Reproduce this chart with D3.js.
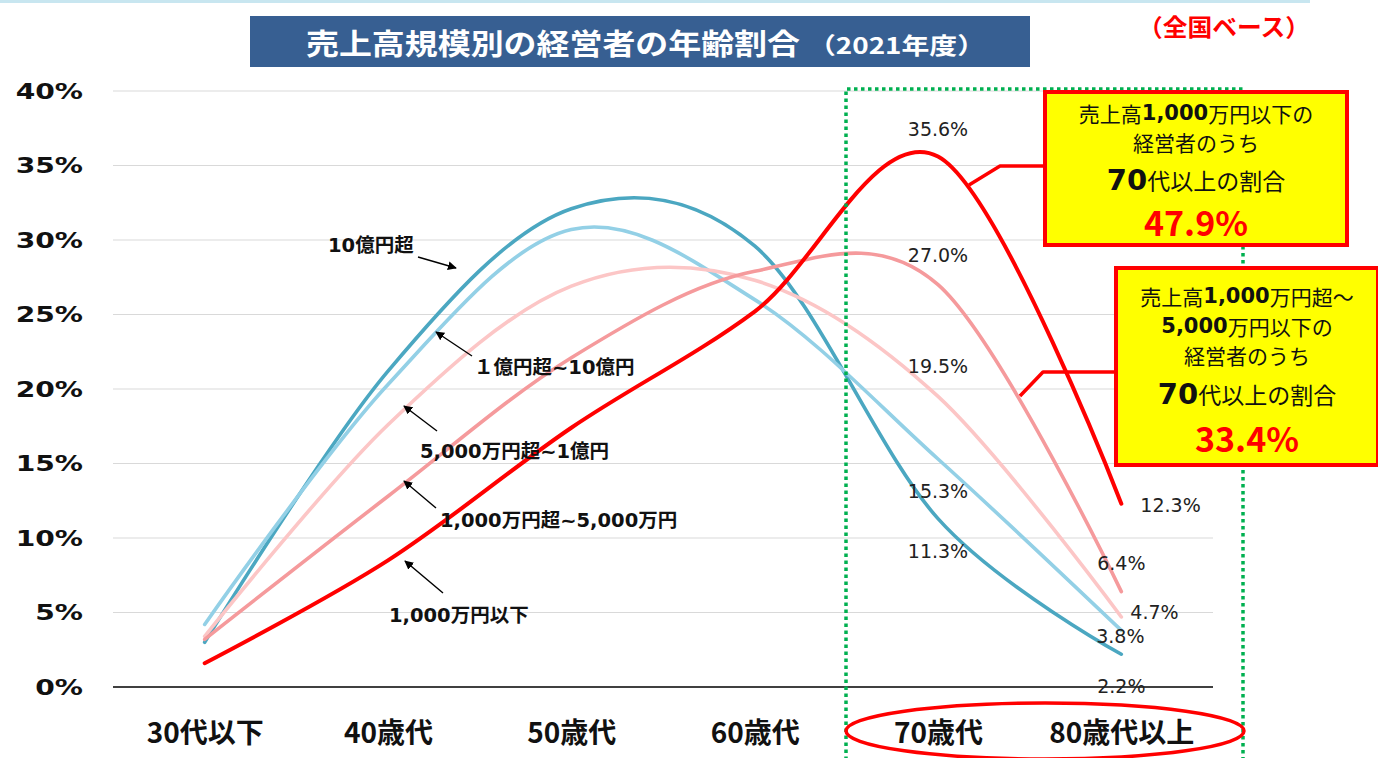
<!DOCTYPE html>
<html lang="ja">
<head>
<meta charset="utf-8">
<script src="https://cdn.jsdelivr.net/npm/d3@7/dist/d3.min.js"></script>
<style>
  html, body { margin: 0; padding: 0; background: #fff; }
  svg { display: block; }
</style>
</head>
<body>
<svg id="chart" width="1378" height="758"></svg>
<script>
// 年齢階層
const categories = ["30代以下", "40歳代", "50歳代", "60歳代", "70歳代", "80歳代以上"];
// 売上高規模別の経営者の年齢割合 (%)
const salesUnder1000man   = [1.6, 8.5, 17.4, 25.2, 35.6, 12.3];
const sales1000to5000man  = [3.2, 12.8, 22.1, 27.9, 27.0, 6.4];
const sales5000manTo1oku  = [3.4, 17.6, 26.9, 27.3, 19.5, 4.7];
const sales1to10oku       = [4.2, 20.3, 30.7, 26.0, 15.3, 3.8];
const salesOver10oku      = [3.0, 21.2, 32.1, 29.6, 11.3, 2.2];
const seriesNames = ["1,000万円以下", "1,000万円超~5,000万円", "5,000万円超~1億円", "１億円超~10億円", "10億円超"];
const yTicks = [0, 5, 10, 15, 20, 25, 30, 35, 40];

const svg = d3.select("#chart");
const JP = "'Noto Sans CJK JP', sans-serif";
const VJ = "'DejaVu Sans', 'Noto Sans CJK JP', sans-serif";

const x = d3.scalePoint().domain(categories).range([113, 1213]).padding(0.5);
const y = d3.scaleLinear().domain([0, 40]).range([687, 91]);

// 上端の細い帯
svg.append("rect").attr("x", 0).attr("y", 0).attr("width", 1310).attr("height", 3).attr("fill", "#c8e6f0");

// タイトル
svg.append("rect").attr("x", 250).attr("y", 16).attr("width", 780).attr("height", 51)
  .attr("fill", "#375f92");
svg.append("text").attr("x", 306).attr("y", 42).attr("dominant-baseline", "central")
  .attr("font-family", JP).attr("font-weight", 700).attr("font-size", 29).attr("fill", "#fff")
  .attr("textLength", 494).attr("lengthAdjust", "spacingAndGlyphs")
  .text("売上高規模別の経営者の年齢割合");
svg.append("text").attr("x", 808).attr("y", 44).attr("dominant-baseline", "central")
  .attr("font-family", JP).attr("font-weight", 700).attr("font-size", 23).attr("fill", "#fff")
  .attr("textLength", 177).attr("lengthAdjust", "spacingAndGlyphs")
  .text("（2021年度）");
svg.append("text").attr("x", 1138).attr("y", 25).attr("dominant-baseline", "central")
  .attr("font-family", JP).attr("font-weight", 700).attr("font-size", 24).attr("fill", "#ff0000")
  .attr("textLength", 172).attr("lengthAdjust", "spacingAndGlyphs")
  .text("（全国ベース）");

// グリッド線と目盛
const grid = svg.append("g");
grid.selectAll("line").data(yTicks.filter(d => d > 0)).join("line")
  .attr("x1", 113).attr("x2", 1213)
  .attr("y1", d => y(d)).attr("y2", d => y(d))
  .attr("stroke", "#d9d9d9").attr("stroke-width", 1.2);

const yAxis = d3.axisLeft(y).tickValues(yTicks).tickFormat(d => d + "%").tickSize(0).tickPadding(0);
const gy = svg.append("g").attr("transform", "translate(113,0)").call(yAxis);
gy.select(".domain").remove();
gy.selectAll(".tick text")
  .attr("x", 0).attr("dy", null).attr("dominant-baseline", "central")
  .attr("text-anchor", "end")
  .attr("transform", "translate(-30,0) scale(1.28,1)")
  .attr("font-family", "'DejaVu Sans', sans-serif").attr("font-weight", 700)
  .attr("font-size", 22).attr("fill", "#111");

const xAxis = d3.axisBottom(x).tickSize(0).tickPadding(0);
const gx = svg.append("g").attr("transform", "translate(0,687)").call(xAxis);
gx.select(".domain").attr("stroke", "#000").attr("stroke-width", 1.3)
  .attr("d", "M113,0H1213");
gx.selectAll(".tick text").attr("y", 44).attr("dy", null).attr("dominant-baseline", "central")
  .attr("font-family", JP).attr("font-weight", 700).attr("font-size", 28).attr("fill", "#111");

// 系列の線
const series = [
  { name: seriesNames[0], values: salesUnder1000man,  color: "#ff0000", width: 4 },
  { name: seriesNames[1], values: sales1000to5000man, color: "#f59a9c", width: 3.6 },
  { name: seriesNames[2], values: sales5000manTo1oku, color: "#fcc6c6", width: 3.6 },
  { name: seriesNames[3], values: sales1to10oku,      color: "#93d0e6", width: 3.6 },
  { name: seriesNames[4], values: salesOver10oku,     color: "#4ba7c1", width: 3.6 }
];
const line = d3.line()
  .x((d, i) => x(categories[i]))
  .y(d => y(d))
  .curve(d3.curveCardinal.tension(0));

svg.append("g").selectAll("path").data(series.slice().reverse()).join("path")
  .attr("d", s => line(s.values))
  .attr("fill", "none").attr("stroke", s => s.color).attr("stroke-width", s => s.width)
  .attr("stroke-linecap", "round").attr("stroke-linejoin", "round");

// データラベル (70歳代・80歳代以上)
const labelOffsets = [
  [[0, -28], [19, 1, "start"]],
  [[0, -30], [0, -29]],
  [[0, -30], [9, -5, "start"]],
  [[0, 32], [-1, 6]],
  [[0, 32], [0, 32]]
];
const labels = [];
series.forEach((s, si) => {
  [4, 5].forEach((ci, k) => {
    const off = labelOffsets[si][k];
    labels.push({ v: s.values[ci], cx: x(categories[ci]) + off[0], cy: y(s.values[ci]) + off[1], anchor: off[2] || "middle" });
  });
});
svg.append("g").selectAll("text").data(labels).join("text")
  .attr("x", d => d.cx).attr("y", d => d.cy)
  .attr("text-anchor", d => d.anchor).attr("dominant-baseline", "central")
  .attr("font-family", "'DejaVu Sans', sans-serif").attr("font-size", 19).attr("fill", "#222")
  .text(d => d3.format(".1f")(d.v) + "%");

// 緑の点線枠
svg.append("path")
  .attr("d", "M846,760V89H1243V760")
  .attr("fill", "none").attr("stroke", "#00b050").attr("stroke-width", 3.5)
  .attr("stroke-dasharray", "3.5,3.5");

// 70歳代・80歳代以上を囲む楕円
svg.append("ellipse").attr("cx", 1045).attr("cy", 731).attr("rx", 199).attr("ry", 28)
  .attr("fill", "none").attr("stroke", "#ff0000").attr("stroke-width", 3.5);

// 系列名の注記と矢印
const defs = svg.append("defs");
defs.append("marker").attr("id", "arrow").attr("viewBox", "0 0 10 10")
  .attr("refX", 9).attr("refY", 5).attr("markerWidth", 9).attr("markerHeight", 9)
  .attr("markerUnits", "userSpaceOnUse").attr("orient", "auto")
  .append("path").attr("d", "M0,0L10,5L0,10z").attr("fill", "#000");

const notes = [
  { text: seriesNames[4], tx: 328, ty: 245, a: [418, 257, 456, 268] },
  { text: seriesNames[3], tx: 474, ty: 367, a: [472, 356, 436, 332] },
  { text: seriesNames[2], tx: 420, ty: 451, a: [437, 431, 404, 406] },
  { text: seriesNames[1], tx: 440, ty: 520, a: [436, 508, 404, 481] },
  { text: seriesNames[0], tx: 389, ty: 615, a: [443, 593, 405, 561] }
];
const ng = svg.append("g");
ng.selectAll("line").data(notes).join("line")
  .attr("x1", d => d.a[0]).attr("y1", d => d.a[1]).attr("x2", d => d.a[2]).attr("y2", d => d.a[3])
  .attr("stroke", "#000").attr("stroke-width", 1.4).attr("marker-end", "url(#arrow)");
ng.selectAll("text").data(notes).join("text")
  .attr("x", d => d.tx).attr("y", d => d.ty).attr("dominant-baseline", "central")
  .attr("font-family", VJ).attr("font-weight", 700).attr("font-size", 19.5).attr("fill", "#111")
  .text(d => d.text);

// 吹き出し
function callout(box, lead, lines) {
  svg.append("polyline").attr("points", lead.map(p => p.join(",")).join(" "))
    .attr("fill", "none").attr("stroke", "#ff0000").attr("stroke-width", 3.5).attr("stroke-linejoin", "round");
  svg.append("rect").attr("x", box[0]).attr("y", box[1]).attr("width", box[2]).attr("height", box[3])
    .attr("fill", "#ffff00").attr("stroke", "#ff0000").attr("stroke-width", 4);
  const cx = box[0] + box[2] / 2;
  lines.forEach(l => {
    const t = svg.append("text").attr("x", cx).attr("y", l.y).attr("text-anchor", "middle")
      .attr("dominant-baseline", "central").attr("fill", l.color || "#111");
    l.parts.forEach(p => {
      t.append("tspan").attr("font-family", p.font || JP).attr("font-weight", p.bold ? 700 : 400)
        .attr("font-size", p.size).text(p.t);
    });
  });
}

callout([1045, 92, 302, 153], [[969, 185], [1000, 166], [1045, 166]], [
  { y: 113, parts: [{ t: "売上高", size: 21 }, { t: "1,000", size: 21, bold: true, font: VJ }, { t: "万円以下の", size: 21 }] },
  { y: 142, parts: [{ t: "経営者のうち", size: 21 }] },
  { y: 180, parts: [{ t: "70", size: 29, bold: true, font: VJ }, { t: "代以上の割合", size: 23 }] },
  { y: 221, color: "#ff0000", parts: [{ t: "47.9%", size: 34, bold: true, font: JP }] }
]);

callout([1116, 268, 262, 197], [[1020, 396], [1043, 372], [1116, 372]], [
  { y: 296, parts: [{ t: "売上高", size: 21 }, { t: "1,000", size: 21, bold: true, font: VJ }, { t: "万円超～", size: 21 }] },
  { y: 326, parts: [{ t: "5,000", size: 21, bold: true, font: VJ }, { t: "万円以下の", size: 21 }] },
  { y: 355, parts: [{ t: "経営者のうち", size: 21 }] },
  { y: 394, parts: [{ t: "70", size: 29, bold: true, font: VJ }, { t: "代以上の割合", size: 23 }] },
  { y: 437, color: "#ff0000", parts: [{ t: "33.4%", size: 34, bold: true, font: JP }] }
]);
</script>
</body>
</html>
